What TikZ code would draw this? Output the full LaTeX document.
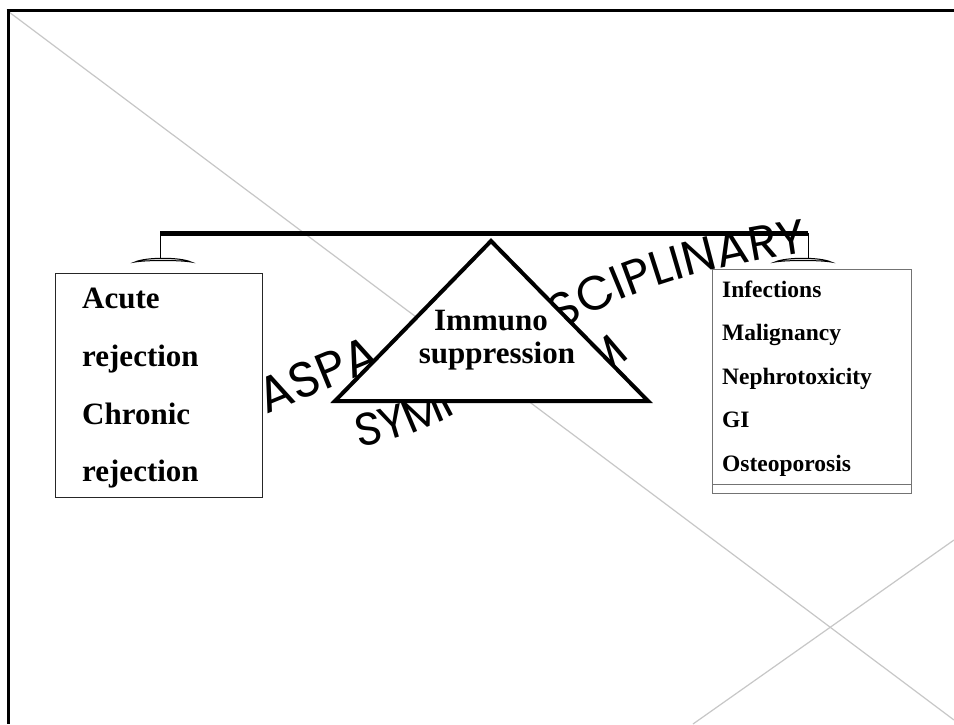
\documentclass[tikz,border=0pt]{standalone}
\usepackage{fontspec}
\setmainfont{Liberation Serif}
\newfontfamily\wafont{Poppins}
\usetikzlibrary{decorations.text}
\begin{document}
\begin{tikzpicture}[x=1pt,y=-1pt,
  guide/.style={draw=black!22, line width=1.2pt},
  frameline/.style={draw=black, line width=3pt},
  beamline/.style={draw=black, line width=5pt},
  hanger/.style={draw=black, line width=1pt},
  pan/.style={draw=black, line width=1pt, fill=black!15},
  boxl/.style={draw=black!85, line width=1pt, fill=white, inner sep=0, anchor=north west},
  boxr/.style={draw=black!55, line width=1.2pt, fill=white, inner sep=0, anchor=north west},
  tri/.style={draw=black, line width=4pt, fill=white, line join=miter},
  lbl/.style={font=\bfseries\fontsize{31}{31}\selectfont, anchor=base west, inner sep=0},
  rlbl/.style={font=\bfseries\fontsize{23.5}{23.5}\selectfont, anchor=base west, inner sep=0},
  tlbl/.style={font=\bfseries\fontsize{31}{31}\selectfont, anchor=base, inner sep=0},
  warc/.style={decorate, decoration={text along path, text align=left}}
]
\useasboundingbox (0,0) rectangle (954,724);
\fill[white] (0,0) rectangle (954,724);

% light guide lines
\coordinate (g1a) at (9,12);
\coordinate (g1b) at (954,720);
\coordinate (g2a) at (693,724);
\coordinate (g2b) at (954,540);
\draw[guide] (g1a) -- (g1b);
\draw[guide] (g2a) -- (g2b);

% frame
\coordinate (f0) at (6.5,10.5);
\coordinate (f1) at (954,10.5);
\coordinate (f2) at (8,9);
\coordinate (f3) at (8,724);
\draw[frameline] (f0) -- (f1);
\draw[frameline] (f2) -- (f3);

% curved word art
\path[warc, decoration={text={|\wafont\fontsize{50}{50}\selectfont|ASPA}}]
  (266,414) -- (410,355);
\path[warc, decoration={text={|\wafont\fontsize{48}{48}\selectfont|SCIPLINARY}}]
  (561,331) .. controls (621,293) and (711,262) .. (845,248);
\path[warc, decoration={text={|\wafont\fontsize{46}{46}\selectfont|SYMP}}]
  (358,447) .. controls (402,440) and (442,425) .. (492,393);
\path[warc, decoration={text={|\wafont\fontsize{46}{46}\selectfont|M}}]
  (600,382) -- (675,318);

% beam
\coordinate (bl) at (160,233);
\coordinate (br) at (808,233);
\coordinate (hl) at (160,260);
\coordinate (hr) at (808,258);
\draw[beamline] (bl) -- (br);
\draw[hanger] (bl) -- (hl);
\draw[hanger] (br) -- (hr);
\draw[pan] (135,262) .. controls (146,257) and (180,257) .. (191,262)
           .. controls (180,260) and (146,260) .. cycle;
\draw[pan] (775,262) .. controls (786,257) and (820,257) .. (831,262)
           .. controls (820,260) and (786,260) .. cycle;

% boxes
\node[boxl, minimum width=207pt, minimum height=224pt] (lbox) at (55,273) {};
\node[boxr, minimum width=199pt, minimum height=224pt] (rbox) at (712,269) {};
\draw[draw=black!55, line width=1.2pt] ([yshift=10pt]rbox.south west) -- ([yshift=10pt]rbox.south east);

\node[lbl] (l1) at (82,308) {Acute};
\node[lbl] (l2) at (82,366) {rejection};
\node[lbl] (l3) at (82,424) {Chronic};
\node[lbl] (l4) at (82,481) {rejection};

\node[rlbl] (r1) at (722,297) {Infections};
\node[rlbl] (r2) at (722,340.5) {Malignancy};
\node[rlbl] (r3) at (722,384) {Nephrotoxicity};
\node[rlbl] (r4) at (722,427.5) {GI};
\node[rlbl] (r5) at (722,471) {Osteoporosis};

% fulcrum triangle
\coordinate (apex) at (491,241);
\coordinate (tbl) at (335,401);
\coordinate (tbr) at (648,401);
\draw[tri] (apex) -- (tbl) -- (tbr) -- cycle;
\node[tlbl] (t1) at (491,330) {Immuno};
\node[tlbl] (t2) at (497,363) {suppression};
\end{tikzpicture}
\end{document}
